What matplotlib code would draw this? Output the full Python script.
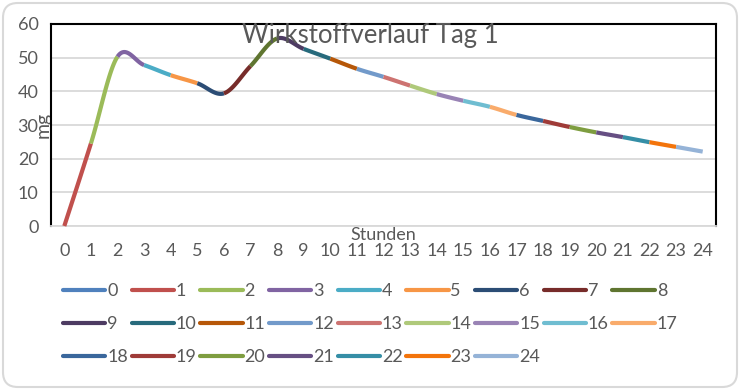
import colorsys
import numpy as np
import matplotlib
matplotlib.use("Agg")
import matplotlib.pyplot as plt
from matplotlib.lines import Line2D
from matplotlib.patches import FancyBboxPatch

plt.rcParams['font.family'] = ['Lato', 'DejaVu Sans']

hours = list(range(25))
series_names = [str(h) for h in hours]
values = [0, 24.5, 50.3, 47.8, 44.8, 42.4, 39.4, 47.5, 55.7, 52.6, 49.7, 46.7,
          44.3, 41.7, 39.2, 37.2, 35.4, 33.0, 31.2, 29.4, 27.8, 26.4, 24.9, 23.5, 22.1]
title = "Wirkstoffverlauf Tag 1"
xlabel = "Stunden"
ylabel = "mg"

# Office 2010 style palette with luminance variants
base = ["#4F81BD", "#C0504D", "#9BBB59", "#8064A2", "#4BACC6", "#F79646"]
mods = [(1.0, 0.0), (0.6, 0.0), (0.8, 0.2), (0.8, 0.0), (0.6, 0.4)]


def lum(hexc, m, o):
    r, g, b = [int(hexc[i:i + 2], 16) / 255 for i in (1, 3, 5)]
    h, l, s = colorsys.rgb_to_hls(r, g, b)
    l = min(1, l * m + o)
    return colorsys.hls_to_rgb(h, l, s)


colors = [lum(base[i % 6], *mods[i // 6]) for i in range(25)]
txtc = "#595959"

fig = plt.figure(figsize=(7.4, 3.9), dpi=100)
fig.patch.set_facecolor("white")
border = FancyBboxPatch((3 / 740, 3 / 390), 734 / 740, 384 / 390,
                        boxstyle="round,pad=0,rounding_size=0.02",
                        transform=fig.transFigure, facecolor="white",
                        edgecolor="#d9d9d9", linewidth=1.5, zorder=-10,
                        mutation_aspect=740 / 390)
fig.patches.append(border)

ax = fig.add_axes([51 / 740, 1 - 226 / 390, 665 / 740, 202 / 390])
ax.set_xlim(-0.5, 24.5)
ax.set_ylim(0, 60)

x = np.array(hours, dtype=float)
y = np.array(values, dtype=float)
n = len(x)
t = np.linspace(0, 1, 30)[:, None]
pts = np.column_stack([x, y])
for i in range(n - 1):
    p0 = pts[max(i - 1, 0)]
    p1 = pts[i]
    p2 = pts[i + 1]
    p3 = pts[min(i + 2, n - 1)]
    c1 = p1 + (p2 - p0) / 6
    c2 = p2 - (p3 - p1) / 6
    seg = ((1 - t) ** 3) * p1 + 3 * ((1 - t) ** 2) * t * c1 + 3 * (1 - t) * t ** 2 * c2 + t ** 3 * p2
    ax.plot(seg[:, 0], seg[:, 1], color=colors[i + 1], lw=3.0,
            solid_capstyle='butt', zorder=3, clip_on=False)

ax.set_yticks(range(0, 61, 10))
ax.set_xticks(hours)
ax.set_xticklabels(series_names)
ax.grid(axis='y', color="#d9d9d9", lw=1.3, zorder=0)
ax.tick_params(length=0, labelsize=13, colors=txtc)
ax.tick_params(axis='y', pad=9)
ax.tick_params(axis='x', pad=12)
for s in ['left', 'top', 'right']:
    ax.spines[s].set_color('black')
    ax.spines[s].set_linewidth(1.5)
ax.spines['bottom'].set_color("#d9d9d9")
ax.spines['bottom'].set_linewidth(1.3)

ax.set_xlabel(xlabel, fontsize=13, color=txtc)
ax.xaxis.label.set_va('center')
ax.xaxis.set_label_coords(0.5, -0.045)
ax.set_ylabel(ylabel, fontsize=14, color=txtc)
ax.yaxis.label.set_va('center')
ax.yaxis.set_label_coords(-0.012, 0.5)

fig.text(0.5, 1 - 36 / 390, title, ha='center', va='center', fontsize=18.5, color=txtc)

handles = [Line2D([], [], color=colors[i], lw=3.0, solid_capstyle='round') for i in range(25)]
ncol = 9
order = []
for j in range(ncol):
    for r in range(3):
        k = r * ncol + j
        if k < 25:
            order.append(k)
leg = fig.legend([handles[k] for k in order], [series_names[k] for k in order],
                 ncol=ncol, loc='upper left', bbox_to_anchor=(63 / 740, 1 - 283 / 390),
                 frameon=False, fontsize=13, handlelength=2.35, handletextpad=0.1,
                 columnspacing=0.2, labelspacing=0.95, borderpad=0, borderaxespad=0)
for txt in leg.get_texts():
    txt.set_color(txtc)

fig.savefig("out.png", dpi=100, facecolor="white")
